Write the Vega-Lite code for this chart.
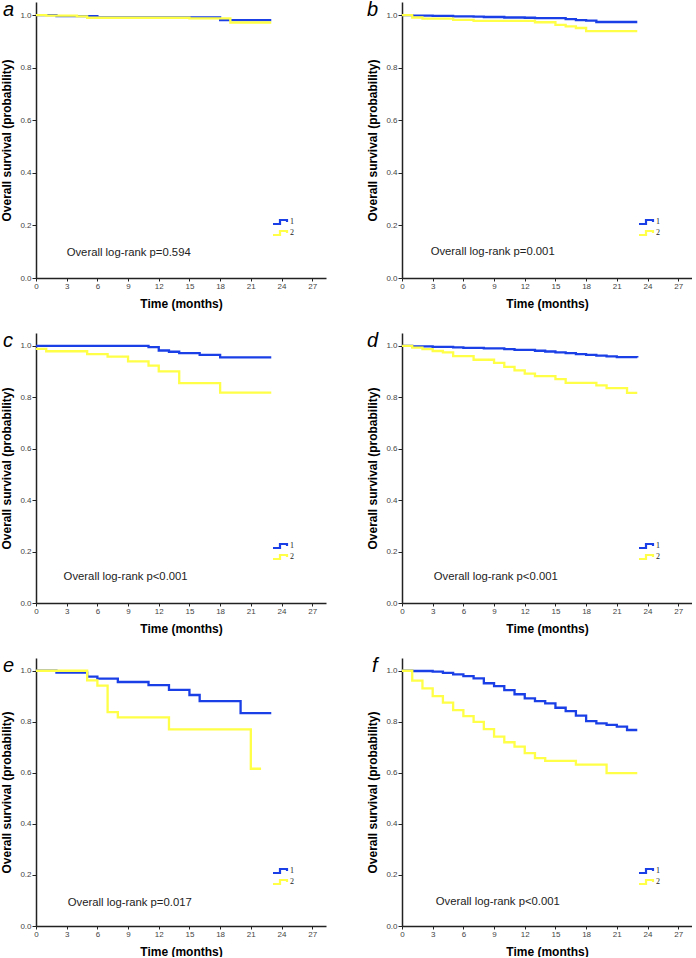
{
  "$schema": "https://vega.github.io/schema/vega-lite/v6.json",
  "padding": {"left": 0, "top": 0, "right": 0, "bottom": 0},
  "bounds": "flush",
  "columns": 2,
  "spacing": {"row": 55, "column": 76},
  "resolve": {"legend": {"color": "independent"}},
  "config": {
    "font": "Liberation Sans",
    "view": {"stroke": null},
    "axis": {"grid": false, "domainColor": "#222", "domainWidth": 1.5, "tickColor": "#222", "tickWidth": 1, "labelFont": "Liberation Sans", "labelFontSize": 8, "labelColor": "#444", "titleFont": "Liberation Sans", "titleFontSize": 12, "titleFontWeight": "bold", "titleColor": "#000"},
    "axisX": {"tickSize": 3, "labelPadding": 1, "titlePadding": 8, "labelFlush": false, "labelOverlap": false, "labelBound": false, "tickCount": 12},
    "axisY": {"tickSize": 4, "labelPadding": 1, "titlePadding": 6, "tickCount": 8},
    "legend": {"title": null, "orient": "none", "symbolType": "M-3.5,1H0V-1H3.5V0", "symbolSize": 16, "symbolStrokeWidth": 2.2, "labelFont": "Liberation Serif", "labelFontSize": 8, "labelColor": "#222", "labelOffset": 6, "rowPadding": -5, "padding": 0},
    "title": {"anchor": "start", "frame": "group", "fontSize": 20, "fontStyle": "italic", "fontWeight": "normal", "font": "Liberation Sans", "color": "#000", "dx": -33, "offset": -18, "baseline": "alphabetic"}
  },
  "datasets": {
    "km": [
      {"panel": "a", "group": "1", "month": 0, "surv": 1.0},
      {"panel": "a", "group": "1", "month": 2, "surv": 0.996},
      {"panel": "a", "group": "1", "month": 6, "surv": 0.991},
      {"panel": "a", "group": "1", "month": 18, "surv": 0.981},
      {"panel": "a", "group": "1", "month": 23, "surv": 0.981},
      {"panel": "a", "group": "2", "month": 0, "surv": 1.0},
      {"panel": "a", "group": "2", "month": 1, "surv": 0.998},
      {"panel": "a", "group": "2", "month": 4, "surv": 0.995},
      {"panel": "a", "group": "2", "month": 5, "surv": 0.99},
      {"panel": "a", "group": "2", "month": 15, "surv": 0.988},
      {"panel": "a", "group": "2", "month": 19, "surv": 0.972},
      {"panel": "a", "group": "2", "month": 23, "surv": 0.972},

      {"panel": "b", "group": "1", "month": 0, "surv": 1.0},
      {"panel": "b", "group": "1", "month": 1, "surv": 0.998},
      {"panel": "b", "group": "1", "month": 3, "surv": 0.997},
      {"panel": "b", "group": "1", "month": 5, "surv": 0.995},
      {"panel": "b", "group": "1", "month": 7, "surv": 0.994},
      {"panel": "b", "group": "1", "month": 8, "surv": 0.993},
      {"panel": "b", "group": "1", "month": 10, "surv": 0.991},
      {"panel": "b", "group": "1", "month": 12, "surv": 0.99},
      {"panel": "b", "group": "1", "month": 13, "surv": 0.989},
      {"panel": "b", "group": "1", "month": 16, "surv": 0.985},
      {"panel": "b", "group": "1", "month": 17, "surv": 0.981},
      {"panel": "b", "group": "1", "month": 18, "surv": 0.979},
      {"panel": "b", "group": "1", "month": 19, "surv": 0.974},
      {"panel": "b", "group": "1", "month": 23, "surv": 0.974},
      {"panel": "b", "group": "2", "month": 0, "surv": 1.0},
      {"panel": "b", "group": "2", "month": 1, "surv": 0.991},
      {"panel": "b", "group": "2", "month": 2, "surv": 0.987},
      {"panel": "b", "group": "2", "month": 5, "surv": 0.982},
      {"panel": "b", "group": "2", "month": 7, "surv": 0.978},
      {"panel": "b", "group": "2", "month": 13, "surv": 0.973},
      {"panel": "b", "group": "2", "month": 15, "surv": 0.963},
      {"panel": "b", "group": "2", "month": 16, "surv": 0.957},
      {"panel": "b", "group": "2", "month": 17, "surv": 0.951},
      {"panel": "b", "group": "2", "month": 18, "surv": 0.939},
      {"panel": "b", "group": "2", "month": 23, "surv": 0.939},

      {"panel": "c", "group": "1", "month": 0, "surv": 1.0},
      {"panel": "c", "group": "1", "month": 11, "surv": 0.995},
      {"panel": "c", "group": "1", "month": 12, "surv": 0.982},
      {"panel": "c", "group": "1", "month": 13, "surv": 0.977},
      {"panel": "c", "group": "1", "month": 14, "surv": 0.972},
      {"panel": "c", "group": "1", "month": 16, "surv": 0.965},
      {"panel": "c", "group": "1", "month": 18, "surv": 0.955},
      {"panel": "c", "group": "1", "month": 23, "surv": 0.955},
      {"panel": "c", "group": "2", "month": 0, "surv": 0.988},
      {"panel": "c", "group": "2", "month": 1, "surv": 0.979},
      {"panel": "c", "group": "2", "month": 5, "surv": 0.968},
      {"panel": "c", "group": "2", "month": 7, "surv": 0.958},
      {"panel": "c", "group": "2", "month": 9, "surv": 0.94},
      {"panel": "c", "group": "2", "month": 11, "surv": 0.923},
      {"panel": "c", "group": "2", "month": 12, "surv": 0.901},
      {"panel": "c", "group": "2", "month": 14, "surv": 0.855},
      {"panel": "c", "group": "2", "month": 18, "surv": 0.818},
      {"panel": "c", "group": "2", "month": 23, "surv": 0.818},

      {"panel": "d", "group": "1", "month": 0, "surv": 1.0},
      {"panel": "d", "group": "1", "month": 1, "surv": 0.998},
      {"panel": "d", "group": "1", "month": 3, "surv": 0.996},
      {"panel": "d", "group": "1", "month": 5, "surv": 0.994},
      {"panel": "d", "group": "1", "month": 6, "surv": 0.992},
      {"panel": "d", "group": "1", "month": 8, "surv": 0.99},
      {"panel": "d", "group": "1", "month": 10, "surv": 0.987},
      {"panel": "d", "group": "1", "month": 11, "surv": 0.984},
      {"panel": "d", "group": "1", "month": 13, "surv": 0.981},
      {"panel": "d", "group": "1", "month": 14, "surv": 0.978},
      {"panel": "d", "group": "1", "month": 15, "surv": 0.975},
      {"panel": "d", "group": "1", "month": 16, "surv": 0.972},
      {"panel": "d", "group": "1", "month": 17, "surv": 0.968},
      {"panel": "d", "group": "1", "month": 18, "surv": 0.965},
      {"panel": "d", "group": "1", "month": 19, "surv": 0.962},
      {"panel": "d", "group": "1", "month": 20, "surv": 0.959},
      {"panel": "d", "group": "1", "month": 21, "surv": 0.956},
      {"panel": "d", "group": "1", "month": 23, "surv": 0.955},
      {"panel": "d", "group": "2", "month": 0, "surv": 1.0},
      {"panel": "d", "group": "2", "month": 1, "surv": 0.993},
      {"panel": "d", "group": "2", "month": 2, "surv": 0.987},
      {"panel": "d", "group": "2", "month": 3, "surv": 0.98},
      {"panel": "d", "group": "2", "month": 4, "surv": 0.975},
      {"panel": "d", "group": "2", "month": 5, "surv": 0.96},
      {"panel": "d", "group": "2", "month": 7, "surv": 0.946},
      {"panel": "d", "group": "2", "month": 9, "surv": 0.934},
      {"panel": "d", "group": "2", "month": 10, "surv": 0.918},
      {"panel": "d", "group": "2", "month": 11, "surv": 0.905},
      {"panel": "d", "group": "2", "month": 12, "surv": 0.892},
      {"panel": "d", "group": "2", "month": 13, "surv": 0.882},
      {"panel": "d", "group": "2", "month": 15, "surv": 0.871},
      {"panel": "d", "group": "2", "month": 16, "surv": 0.856},
      {"panel": "d", "group": "2", "month": 19, "surv": 0.846},
      {"panel": "d", "group": "2", "month": 20, "surv": 0.836},
      {"panel": "d", "group": "2", "month": 22, "surv": 0.817},
      {"panel": "d", "group": "2", "month": 23, "surv": 0.817},

      {"panel": "e", "group": "1", "month": 0, "surv": 1.0},
      {"panel": "e", "group": "1", "month": 2, "surv": 0.993},
      {"panel": "e", "group": "1", "month": 5, "surv": 0.977},
      {"panel": "e", "group": "1", "month": 6, "surv": 0.969},
      {"panel": "e", "group": "1", "month": 8, "surv": 0.956},
      {"panel": "e", "group": "1", "month": 11, "surv": 0.944},
      {"panel": "e", "group": "1", "month": 13, "surv": 0.925},
      {"panel": "e", "group": "1", "month": 15, "surv": 0.905},
      {"panel": "e", "group": "1", "month": 16, "surv": 0.881},
      {"panel": "e", "group": "1", "month": 20, "surv": 0.834},
      {"panel": "e", "group": "1", "month": 23, "surv": 0.834},
      {"panel": "e", "group": "2", "month": 0, "surv": 1.0},
      {"panel": "e", "group": "2", "month": 5, "surv": 0.962},
      {"panel": "e", "group": "2", "month": 6, "surv": 0.942},
      {"panel": "e", "group": "2", "month": 7, "surv": 0.838},
      {"panel": "e", "group": "2", "month": 8, "surv": 0.817},
      {"panel": "e", "group": "2", "month": 13, "surv": 0.77},
      {"panel": "e", "group": "2", "month": 21, "surv": 0.616},
      {"panel": "e", "group": "2", "month": 22, "surv": 0.616},

      {"panel": "f", "group": "1", "month": 0, "surv": 1.0},
      {"panel": "f", "group": "1", "month": 1, "surv": 0.999},
      {"panel": "f", "group": "1", "month": 3, "surv": 0.997},
      {"panel": "f", "group": "1", "month": 4, "surv": 0.992},
      {"panel": "f", "group": "1", "month": 5, "surv": 0.986},
      {"panel": "f", "group": "1", "month": 6, "surv": 0.979},
      {"panel": "f", "group": "1", "month": 7, "surv": 0.97},
      {"panel": "f", "group": "1", "month": 8, "surv": 0.951},
      {"panel": "f", "group": "1", "month": 9, "surv": 0.94},
      {"panel": "f", "group": "1", "month": 10, "surv": 0.924},
      {"panel": "f", "group": "1", "month": 11, "surv": 0.908},
      {"panel": "f", "group": "1", "month": 12, "surv": 0.892},
      {"panel": "f", "group": "1", "month": 13, "surv": 0.881},
      {"panel": "f", "group": "1", "month": 14, "surv": 0.872},
      {"panel": "f", "group": "1", "month": 15, "surv": 0.855},
      {"panel": "f", "group": "1", "month": 16, "surv": 0.842},
      {"panel": "f", "group": "1", "month": 17, "surv": 0.824},
      {"panel": "f", "group": "1", "month": 18, "surv": 0.803},
      {"panel": "f", "group": "1", "month": 19, "surv": 0.794},
      {"panel": "f", "group": "1", "month": 20, "surv": 0.788},
      {"panel": "f", "group": "1", "month": 21, "surv": 0.781},
      {"panel": "f", "group": "1", "month": 22, "surv": 0.768},
      {"panel": "f", "group": "1", "month": 23, "surv": 0.768},
      {"panel": "f", "group": "2", "month": 0, "surv": 1.0},
      {"panel": "f", "group": "2", "month": 1, "surv": 0.961},
      {"panel": "f", "group": "2", "month": 2, "surv": 0.931},
      {"panel": "f", "group": "2", "month": 3, "surv": 0.901},
      {"panel": "f", "group": "2", "month": 4, "surv": 0.875},
      {"panel": "f", "group": "2", "month": 5, "surv": 0.846},
      {"panel": "f", "group": "2", "month": 6, "surv": 0.822},
      {"panel": "f", "group": "2", "month": 7, "surv": 0.8},
      {"panel": "f", "group": "2", "month": 8, "surv": 0.771},
      {"panel": "f", "group": "2", "month": 9, "surv": 0.742},
      {"panel": "f", "group": "2", "month": 10, "surv": 0.72},
      {"panel": "f", "group": "2", "month": 11, "surv": 0.703},
      {"panel": "f", "group": "2", "month": 12, "surv": 0.677},
      {"panel": "f", "group": "2", "month": 13, "surv": 0.658},
      {"panel": "f", "group": "2", "month": 14, "surv": 0.647},
      {"panel": "f", "group": "2", "month": 17, "surv": 0.632},
      {"panel": "f", "group": "2", "month": 20, "surv": 0.599},
      {"panel": "f", "group": "2", "month": 23, "surv": 0.599}
    ],
    "notes": [
      {"panel": "a", "note": "Overall log-rank p=0.594"},
      {"panel": "b", "note": "Overall log-rank p=0.001"},
      {"panel": "c", "note": "Overall log-rank p<0.001"},
      {"panel": "d", "note": "Overall log-rank p<0.001"},
      {"panel": "e", "note": "Overall log-rank p=0.017"},
      {"panel": "f", "note": "Overall log-rank p<0.001"}
    ]
  },
  "concat": [
    {
      "width": 290, "height": 276,
      "title": {"text": "a"},
      "layer": [
        {"data": {"name": "km"}, "transform": [{"filter": "datum.panel == 'a'"}],
         "mark": {"type": "line", "interpolate": "step-after", "strokeWidth": 2.3},
         "encoding": {
           "x": {"field": "month", "type": "quantitative", "scale": {"domain": [0, 28.35], "nice": false, "zero": false}, "axis": {"title": "Time (months)", "values": [0,3,6,9,12,15,18,21,24,27], "labelOverlap": false, "tickCount": 12}},
           "y": {"field": "surv", "type": "quantitative", "scale": {"domain": [0, 1.05], "nice": false}, "axis": {"title": "Overall survival (probability)", "values": [0,0.2,0.4,0.6,0.8,1.0], "format": ".1f"}},
           "color": {"field": "group", "type": "nominal", "scale": {"domain": ["1","2"], "range": ["#1a3fe6","#ffff47"]}, "legend": {"legendX": 240, "legendY": 216}}
         }},
        {"data": {"name": "notes"}, "transform": [{"filter": "datum.panel == 'a'"}],
         "mark": {"type": "text", "align": "left", "baseline": "middle", "fontSize": 11.3, "color": "#222"},
         "encoding": {"x": {"datum": 3, "type": "quantitative"}, "y": {"datum": 0.095, "type": "quantitative"}, "text": {"field": "note"}}}
      ]
    },
    {
      "width": 290, "height": 276,
      "title": {"text": "b", "dx": -35},
      "layer": [
        {"data": {"name": "km"}, "transform": [{"filter": "datum.panel == 'b'"}],
         "mark": {"type": "line", "interpolate": "step-after", "strokeWidth": 2.3},
         "encoding": {
           "x": {"field": "month", "type": "quantitative", "scale": {"domain": [0, 28.35], "nice": false, "zero": false}, "axis": {"title": "Time (months)", "values": [0,3,6,9,12,15,18,21,24,27], "labelOverlap": false, "tickCount": 12}},
           "y": {"field": "surv", "type": "quantitative", "scale": {"domain": [0, 1.05], "nice": false}, "axis": {"title": "Overall survival (probability)", "values": [0,0.2,0.4,0.6,0.8,1.0], "format": ".1f"}},
           "color": {"field": "group", "type": "nominal", "scale": {"domain": ["1","2"], "range": ["#1a3fe6","#ffff47"]}, "legend": {"legendX": 240, "legendY": 216}}
         }},
        {"data": {"name": "notes"}, "transform": [{"filter": "datum.panel == 'b'"}],
         "mark": {"type": "text", "align": "left", "baseline": "middle", "fontSize": 11.3, "color": "#222"},
         "encoding": {"x": {"datum": 2.8, "type": "quantitative"}, "y": {"datum": 0.098, "type": "quantitative"}, "text": {"field": "note"}}}
      ]
    },
    {
      "width": 290, "height": 270,
      "title": {"text": "c"},
      "layer": [
        {"data": {"name": "km"}, "transform": [{"filter": "datum.panel == 'c'"}],
         "mark": {"type": "line", "interpolate": "step-after", "strokeWidth": 2.3},
         "encoding": {
           "x": {"field": "month", "type": "quantitative", "scale": {"domain": [0, 28.35], "nice": false, "zero": false}, "axis": {"title": "Time (months)", "values": [0,3,6,9,12,15,18,21,24,27], "labelOverlap": false, "tickCount": 12}},
           "y": {"field": "surv", "type": "quantitative", "scale": {"domain": [0, 1.05], "nice": false}, "axis": {"title": "Overall survival (probability)", "values": [0,0.2,0.4,0.6,0.8,1.0], "format": ".1f"}},
           "color": {"field": "group", "type": "nominal", "scale": {"domain": ["1","2"], "range": ["#1a3fe6","#ffff47"]}, "legend": {"legendX": 240, "legendY": 209}}
         }},
        {"data": {"name": "notes"}, "transform": [{"filter": "datum.panel == 'c'"}],
         "mark": {"type": "text", "align": "left", "baseline": "middle", "fontSize": 11.3, "color": "#222"},
         "encoding": {"x": {"datum": 2.7, "type": "quantitative"}, "y": {"datum": 0.1, "type": "quantitative"}, "text": {"field": "note"}}}
      ]
    },
    {
      "width": 290, "height": 270,
      "title": {"text": "d", "dx": -35},
      "layer": [
        {"data": {"name": "km"}, "transform": [{"filter": "datum.panel == 'd'"}],
         "mark": {"type": "line", "interpolate": "step-after", "strokeWidth": 2.3},
         "encoding": {
           "x": {"field": "month", "type": "quantitative", "scale": {"domain": [0, 28.35], "nice": false, "zero": false}, "axis": {"title": "Time (months)", "values": [0,3,6,9,12,15,18,21,24,27], "labelOverlap": false, "tickCount": 12}},
           "y": {"field": "surv", "type": "quantitative", "scale": {"domain": [0, 1.05], "nice": false}, "axis": {"title": "Overall survival (probability)", "values": [0,0.2,0.4,0.6,0.8,1.0], "format": ".1f"}},
           "color": {"field": "group", "type": "nominal", "scale": {"domain": ["1","2"], "range": ["#1a3fe6","#ffff47"]}, "legend": {"legendX": 240, "legendY": 209}}
         }},
        {"data": {"name": "notes"}, "transform": [{"filter": "datum.panel == 'd'"}],
         "mark": {"type": "text", "align": "left", "baseline": "middle", "fontSize": 11.3, "color": "#222"},
         "encoding": {"x": {"datum": 3.1, "type": "quantitative"}, "y": {"datum": 0.1, "type": "quantitative"}, "text": {"field": "note"}}}
      ]
    },
    {
      "width": 290, "height": 268,
      "title": {"text": "e"},
      "layer": [
        {"data": {"name": "km"}, "transform": [{"filter": "datum.panel == 'e'"}],
         "mark": {"type": "line", "interpolate": "step-after", "strokeWidth": 2.3},
         "encoding": {
           "x": {"field": "month", "type": "quantitative", "scale": {"domain": [0, 28.35], "nice": false, "zero": false}, "axis": {"title": "Time (months)", "values": [0,3,6,9,12,15,18,21,24,27], "labelOverlap": false, "tickCount": 12}},
           "y": {"field": "surv", "type": "quantitative", "scale": {"domain": [0, 1.05], "nice": false}, "axis": {"title": "Overall survival (probability)", "values": [0,0.2,0.4,0.6,0.8,1.0], "format": ".1f"}},
           "color": {"field": "group", "type": "nominal", "scale": {"domain": ["1","2"], "range": ["#1a3fe6","#ffff47"]}, "legend": {"legendX": 240, "legendY": 209}}
         }},
        {"data": {"name": "notes"}, "transform": [{"filter": "datum.panel == 'e'"}],
         "mark": {"type": "text", "align": "left", "baseline": "middle", "fontSize": 11.3, "color": "#222"},
         "encoding": {"x": {"datum": 3.1, "type": "quantitative"}, "y": {"datum": 0.09, "type": "quantitative"}, "text": {"field": "note"}}}
      ]
    },
    {
      "width": 290, "height": 268,
      "title": {"text": "f", "dx": -30},
      "layer": [
        {"data": {"name": "km"}, "transform": [{"filter": "datum.panel == 'f'"}],
         "mark": {"type": "line", "interpolate": "step-after", "strokeWidth": 2.3},
         "encoding": {
           "x": {"field": "month", "type": "quantitative", "scale": {"domain": [0, 28.35], "nice": false, "zero": false}, "axis": {"title": "Time (months)", "values": [0,3,6,9,12,15,18,21,24,27], "labelOverlap": false, "tickCount": 12}},
           "y": {"field": "surv", "type": "quantitative", "scale": {"domain": [0, 1.05], "nice": false}, "axis": {"title": "Overall survival (probability)", "values": [0,0.2,0.4,0.6,0.8,1.0], "format": ".1f"}},
           "color": {"field": "group", "type": "nominal", "scale": {"domain": ["1","2"], "range": ["#1a3fe6","#ffff47"]}, "legend": {"legendX": 240, "legendY": 209}}
         }},
        {"data": {"name": "notes"}, "transform": [{"filter": "datum.panel == 'f'"}],
         "mark": {"type": "text", "align": "left", "baseline": "middle", "fontSize": 11.3, "color": "#222"},
         "encoding": {"x": {"datum": 3.3, "type": "quantitative"}, "y": {"datum": 0.095, "type": "quantitative"}, "text": {"field": "note"}}}
      ]
    }
  ]
}
